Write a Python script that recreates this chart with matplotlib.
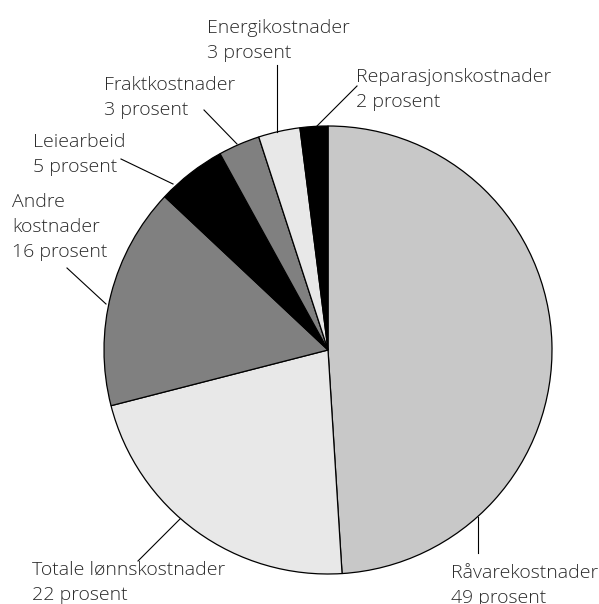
import matplotlib
matplotlib.use("Agg")
import matplotlib.pyplot as plt

W, H = 599, 604

# data (clockwise from 12 o'clock)
categories = ["Råvarekostnader", "Totale lønnskostnader", "Andre\nkostnader", "Leiearbeid",
              "Fraktkostnader", "Energikostnader", "Reparasjonskostnader"]
shares = [49, 22, 16, 5, 3, 3, 2]
colors = ["#c8c8c8", "#e8e8e8", "#808080", "#000000", "#808080", "#e8e8e8", "#000000"]

# layout in pixels (from top-left): label x, first baseline, leader line start/end
label_pos = [(451, 578), (32, 575), (12, 207), (33, 147), (104, 90), (207, 33), (356, 82)]
leaders = [((478, 553), (478, 517)), ((138, 561), (180, 519)), ((67, 268), (106, 304)),
           ((121, 159), (173, 184)), ((204, 110), (237, 144)), ((277, 65), (277, 132)),
           ((357, 86), (317, 126))]
CX, CY, R = 328, 350, 224
LINE = 25

fig = plt.figure(figsize=(W / 100, H / 100), dpi=100)
ax = fig.add_axes([0, 0, 1, 1])


def fy(y):
    return H - y


ax.pie(shares, colors=colors, startangle=90, counterclock=False, center=(CX, fy(CY)), radius=R,
       wedgeprops=dict(edgecolor="black", linewidth=0.9), frame=True)
ax.set_xlim(0, W)
ax.set_ylim(0, H)
ax.set_aspect("equal")
ax.axis("off")

for name, val, (lx, ly), ((x0, y0), (x1, y1)) in zip(categories, shares, label_pos, leaders):
    lines = name.split("\n") + [f"{val} prosent"]
    for i, s in enumerate(lines):
        ax.text(lx, fy(ly + i * LINE), s, fontsize=14, family="Open Sans", fontweight="light",
                color="#2a2a2a", ha="left", va="baseline")
    ax.plot([x0, x1], [fy(y0), fy(y1)], color="black", lw=0.8)

fig.savefig("out.png", dpi=100)
